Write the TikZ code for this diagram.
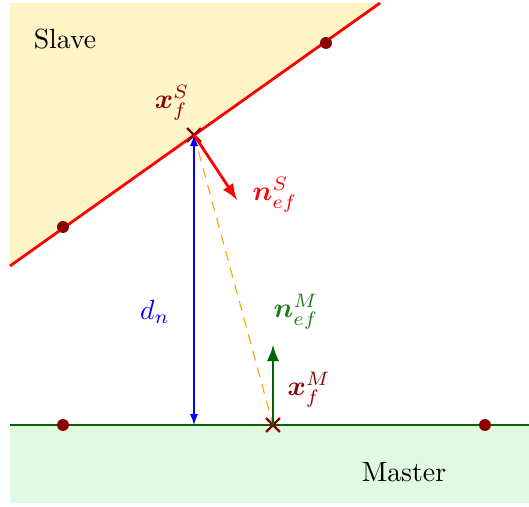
\documentclass[tikz,border=0pt]{standalone}
\definecolor{slavefill}{HTML}{FFF4C6}
\definecolor{masterfill}{HTML}{E1F8E1}
\definecolor{darkred}{HTML}{8B0000}
\definecolor{darkgreen}{HTML}{006400}
\definecolor{labelgreen}{HTML}{1E7B1E}
\definecolor{gapcol}{HTML}{FFA500}
\usepackage{amsmath,amssymb}
\usepackage{tikz}
\usetikzlibrary{shapes,arrows,positioning,calc}

\begin{document}
\begin{tikzpicture}[scale=0.633, >=latex,
  surfdot/.style={circle, fill=darkred, inner sep=0pt, minimum size=4.3pt},
  gausspt/.style={cross out, draw=darkred, thick, inner sep=0pt, minimum size=4.2pt}]
\useasboundingbox (0,0) rectangle (10.58,10.14);

% slave body and its surface
\fill[slavefill] (0.2,4.82) -- (7.6,10.08) -- (0.2,10.08) -- cycle;
\draw[red, line width=1pt] (0.2,4.82) -- (7.6,10.08);
\node at (1.3,9.36) {Slave};
\node[surfdot] (sA) at (1.26,5.6) {};
\node[surfdot] (sB) at (6.52,9.28) {};

% master body and its surface
\fill[masterfill] (0.2,0.08) rectangle (10.58,1.64);
\draw[darkgreen, line width=1pt] (0.2,1.64) -- (10.58,1.64);
\node at (8.08,0.7) {Master};
\node[surfdot] (mA) at (1.26,1.64) {};
\node[surfdot] (mB) at (9.7,1.64) {};

% points and normals
\node[gausspt] (xfS) at (3.88,7.44) {};
\node[gausspt] (xfM) at (5.46,1.64) {};
\coordinate (dnfoot) at (3.88,1.64);
\coordinate (nS) at (4.74,6.14);
\coordinate (nM) at (5.46,3.24);

\draw[gapcol, dash pattern=on 3.6pt off 2.6pt] (xfS.center) -- (xfM.center);
\draw[blue, <->] (dnfoot) -- (xfS.center);
\draw[red, line width=1pt, ->] (xfS.center) -- (nS);
\draw[darkgreen, line width=1pt, ->] (xfM.center) -- (nM);

\node[darkred] at (3.44,8.08) {$\boldsymbol{x}_f^S$};
\node[red] at (5.5,6.24) {$\boldsymbol{n}_{ef}^S$};
\node[labelgreen] at (5.92,3.9) {$\boldsymbol{n}_{ef}^M$};
\node[darkred] at (6.18,2.34) {$\boldsymbol{x}_f^M$};
\node[blue] at (3.1,3.9) {$d_n$};

\end{tikzpicture}
\end{document}
